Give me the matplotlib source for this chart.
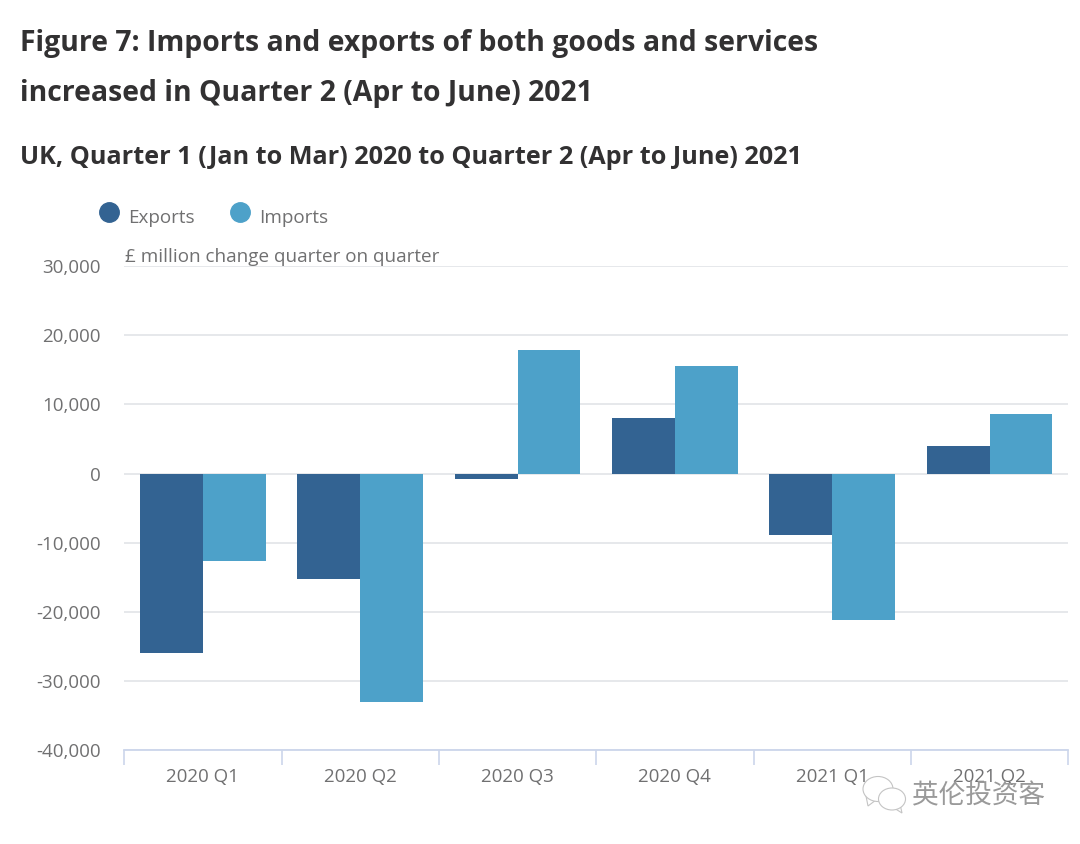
import matplotlib
matplotlib.use('Agg')
import matplotlib.pyplot as plt
import numpy as np
from matplotlib.lines import Line2D
from matplotlib.patches import Ellipse, Polygon

quarters = ['2020 Q1', '2020 Q2', '2020 Q3', '2020 Q4', '2021 Q1', '2021 Q2']
exports = [-26000, -15300, -800, 8100, -8900, 4000]
imports = [-12600, -33100, 17900, 15500, -21200, 8600]
yticks = [30000, 20000, 10000, 0, -10000, -20000, -30000, -40000]

W, H = 1080, 844
TEXT = '#323132'
GREY = '#707071'

plt.rcParams['font.family'] = ['Open Sans', 'DejaVu Sans']

fig = plt.figure(figsize=(W / 100, H / 100), dpi=100, facecolor='white')
# axes box in pixels: x 124-1068, y 266-750
ax = fig.add_axes([124.2 / W, 1 - 750.1 / H, 944 / W, 484 / H])

x = np.arange(len(quarters))
width = 0.4
ax.bar(x - width / 2, exports, width, color='#336392', zorder=3)
ax.bar(x + width / 2, imports, width, color='#4da1c9', zorder=3)

ax.set_xlim(-0.5, 5.5)
ax.set_ylim(-40000, 30000)
ax.set_yticks(yticks)
ax.set_yticklabels([f'{v:,}' for v in yticks], fontsize=13.5, color=GREY)
ax.grid(axis='y', color='#e4e6e9', linewidth=1.3, zorder=0)
ax.tick_params(axis='y', length=0, pad=17)

# category ticks sit on the boundaries, labels in the middle
ax.set_xticks(np.arange(-0.5, 6, 1))
ax.set_xticklabels([])
ax.set_xticks(x, minor=True)
ax.set_xticklabels(quarters, minor=True, fontsize=13.5, color=GREY)
ax.tick_params(axis='x', which='major', length=11, width=1.2, color='#ccd6eb', direction='out')
ax.tick_params(axis='x', which='minor', length=0, pad=13)

for side in ['top', 'left', 'right']:
    ax.spines[side].set_visible(False)
ax.spines['bottom'].set_color('#ccd6eb')
ax.spines['bottom'].set_linewidth(1.3)

fig.text(20 / W, 1 - 43 / H, 'Figure 7: Imports and exports of both goods and services',
         fontsize=20.4, fontweight='bold', color=TEXT, va='center')
fig.text(20 / W, 1 - 93 / H, 'increased in Quarter 2 (Apr to June) 2021',
         fontsize=20.4, fontweight='bold', color=TEXT, va='center')
fig.text(20 / W, 1 - 157 / H, 'UK, Quarter 1 (Jan to Mar) 2020 to Quarter 2 (Apr to June) 2021',
         fontsize=18.15, fontweight='bold', color=TEXT, va='center')

fig.text(125 / W, 1 - 257 / H, '£ million change quarter on quarter',
         fontsize=13.6, color=GREY, va='center')

# legend drawn by hand so the markers land where the original has them
fig.add_artist(Line2D([109 / W], [1 - 212 / H], marker='o', markersize=14,
                      color='#336392', linestyle='none', transform=fig.transFigure))
fig.add_artist(Line2D([239.5 / W], [1 - 212 / H], marker='o', markersize=14,
                      color='#4da1c9', linestyle='none', transform=fig.transFigure))
fig.text(128.5 / W, 1 - 218 / H, 'Exports', fontsize=13.6, color=GREY, va='center')
fig.text(259.5 / W, 1 - 218 / H, 'Imports', fontsize=13.6, color=GREY, va='center')

# watermark: two chat bubbles and the account name
def bubble(cx, cy, w, h, tail):
    px = lambda a, b: (a / W, 1 - b / H)
    fig.add_artist(Polygon([px(*p) for p in tail], closed=True, facecolor='white',
                           edgecolor='#c4c4c4', linewidth=0.8, transform=fig.transFigure))
    fig.add_artist(Ellipse(px(cx, cy), w / W, h / H, facecolor='white',
                           edgecolor='#c4c4c4', linewidth=0.8, transform=fig.transFigure))


bubble(878, 789, 30, 25, [(866, 796), (868, 806), (876, 800)])
bubble(892, 799, 27, 22, [(894, 808), (902, 813), (900, 804)])
fig.text(912 / W, 1 - 796 / H, '英伦投资客', fontsize=19.2, color='#9a9a9a', va='center',
         family=['Noto Sans CJK SC', 'DejaVu Sans'])

fig.savefig('out.png', dpi=100)
